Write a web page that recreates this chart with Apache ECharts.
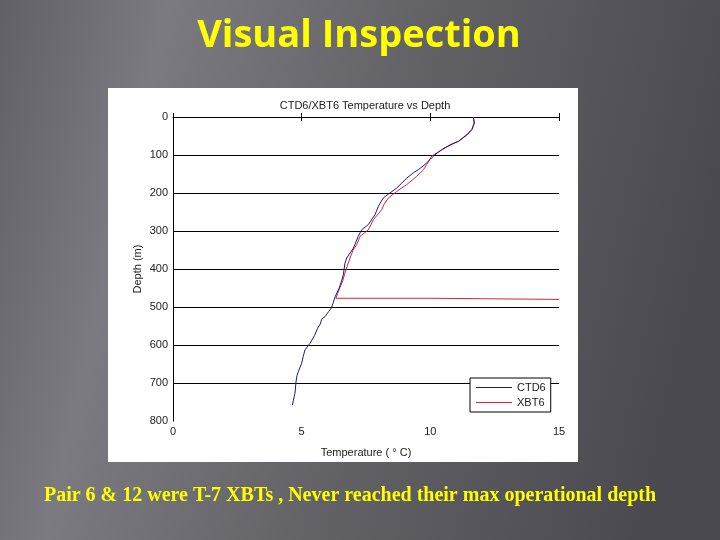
<!DOCTYPE html>
<html>
<head>
<meta charset="utf-8">
<script src="https://cdn.jsdelivr.net/npm/echarts@6/dist/echarts.min.js"></script>
<style>html,body{margin:0;padding:0;}#c{width:720px;height:540px;}</style>
</head>
<body>
<div id="c"></div>
<script>
// ---- data ----
const slideTitle = 'Visual Inspection';
const chartTitle = 'CTD6/XBT6 Temperature vs Depth';
const caption = 'Pair 6 & 12 were T-7 XBTs , Never reached their max operational depth';
const seriesNames = ['CTD6', 'XBT6'];
const xTicks = [0, 5, 10, 15];
const yTicks = [0, 100, 200, 300, 400, 500, 600, 700, 800];
const gridDepths = [0, 100, 200, 300, 400, 500, 600, 700];

const ctdDepth = [0,16,33,47,64,73,86,99,112,125,139,147,161,174,187,200,213,235,257,283,297,314,345,371,385,415,429,452,473,490,503,512,525,532,545,556,575,596,613,630,648,670,680,697,727,745,758];
const ctdTemp  = [11.67,11.7,11.61,11.41,11.09,10.77,10.44,10.18,9.99,9.79,9.53,9.34,9.08,8.89,8.69,8.43,8.17,7.98,7.85,7.59,7.33,7.2,7.01,6.75,6.68,6.62,6.56,6.45,6.3,6.22,6.15,6.05,5.91,5.78,5.72,5.62,5.5,5.32,5.13,5.06,5.0,4.87,4.82,4.78,4.74,4.68,4.64];

const xbtDepth = [0,16,33,47,64,73,86,103,121,139,156,178,196,213,230,244,270,297,314,336,350,371,390,411,430,455,477,477,480,480];
const xbtTemp  = [11.67,11.72,11.62,11.43,11.1,10.8,10.46,10.05,9.9,9.73,9.47,9.08,8.69,8.37,8.2,8.11,7.79,7.59,7.27,7.14,7.0,6.88,6.78,6.68,6.6,6.45,6.33,10.0,10.0,15];

const ctdData = ctdTemp.map((t, i) => [t, ctdDepth[i]]);
const xbtData = xbtTemp.map((t, i) => [t, xbtDepth[i]]);

const chart = echarts.init(document.getElementById('c'));
const axFont = 'Liberation Sans';
chart.setOption({
  animation: false,
  backgroundColor: {
    type: 'linear', x: 0, y: 0, x2: 1, y2: 0.3,
    colorStops: [
      {offset: 0, color: '#606066'},
      {offset: 0.22, color: '#7a7a80'},
      {offset: 0.55, color: '#636368'},
      {offset: 1, color: '#4a4a50'}
    ]
  },
  graphic: [
    {type: 'rect', shape: {x: 108, y: 88, width: 470, height: 374}, style: {fill: '#ffffff'}, z: -10},
    {type: 'text', x: 359, y: 36, style: {text: slideTitle, fill: '#ffff00', font: 'bold 38px "Open Sans"', align: 'center', verticalAlign: 'middle', shadowColor: 'rgba(0,0,0,0.6)', shadowOffsetX: 2, shadowOffsetY: 2, shadowBlur: 2}},
    {type: 'text', x: 350, y: 496, style: {text: caption, fill: '#ffff00', font: 'bold 20px "Liberation Serif"', align: 'center', verticalAlign: 'middle'}}
  ],
  title: {
    text: chartTitle, left: 360, top: 95, textAlign: 'center',
    textStyle: {fontFamily: axFont, fontSize: 11, fontWeight: 'normal', color: '#222'}
  },
  grid: {left: 173, right: 161, top: 117, bottom: 119},
  legend: {
    data: seriesNames, orient: 'vertical', left: 470, top: 378, z: 20,
    icon: 'rect', itemWidth: 36, itemHeight: 1, itemGap: 4,
    padding: [4, 5, 4, 6],
    backgroundColor: '#fff', borderColor: '#000', borderWidth: 1,
    textStyle: {fontFamily: axFont, fontSize: 11, color: '#222'}
  },
  xAxis: [
    {
      type: 'value', min: 0, max: 15, interval: 5, position: 'bottom',
      name: 'Temperature ( \u00b0 C)', nameLocation: 'middle', nameGap: 26,
      nameTextStyle: {fontFamily: axFont, fontSize: 11, color: '#222'},
      axisLine: {show: false},
      axisTick: {show: true, inside: true, length: 4, lineStyle: {color: '#000'}},
      axisLabel: {fontFamily: axFont, fontSize: 11, color: '#222', margin: 5,
        formatter: v => xTicks.includes(v) ? String(v) : ''},
      splitLine: {show: false}
    },
    {
      type: 'value', min: 0, max: 15, interval: 5, position: 'top',
      axisLine: {show: true, lineStyle: {color: '#000', width: 1}},
      axisTick: {show: true, inside: true, length: 4, lineStyle: {color: '#000'}},
      axisLabel: {show: false}, splitLine: {show: false}
    }
  ],
  yAxis: [
    {
      type: 'value', min: 0, max: 800, interval: 100, inverse: true, position: 'left',
      name: 'Depth (m)', nameLocation: 'middle', nameGap: 30, nameMoveOverlap: false,
      nameTextStyle: {fontFamily: axFont, fontSize: 11, color: '#222'},
      axisLine: {show: true, lineStyle: {color: '#000', width: 1}},
      axisTick: {show: false},
      axisLabel: {fontFamily: axFont, fontSize: 11, color: '#222', margin: 5,
        formatter: v => yTicks.includes(v) ? String(v) : ''},
      splitLine: {show: false}
    },
    {
      type: 'value', min: 0, max: 800, interval: 100, inverse: true, position: 'right',
      axisLine: {show: true, lineStyle: {color: '#000', width: 1}},
      axisTick: {show: false}, axisLabel: {show: false}, splitLine: {show: false}
    }
  ],
  series: [
    {name: seriesNames[0], type: 'line', data: ctdData, symbol: 'none', xAxisIndex: 0, yAxisIndex: 0,
     lineStyle: {color: '#1a1a78', width: 1}, itemStyle: {color: '#1a1a78'}, z: 3,
     markLine: {
       silent: true, symbol: 'none', label: {show: false}, z: 1,
       lineStyle: {color: '#000', width: 1, type: 'solid'},
       data: gridDepths.map(d => ({yAxis: d}))
     }},
    {name: seriesNames[1], type: 'line', data: xbtData, symbol: 'none', xAxisIndex: 0, yAxisIndex: 0,
     lineStyle: {color: '#d0283a', width: 1}, itemStyle: {color: '#d0283a'}, z: 2}
  ]
});
</script>
</body>
</html>
